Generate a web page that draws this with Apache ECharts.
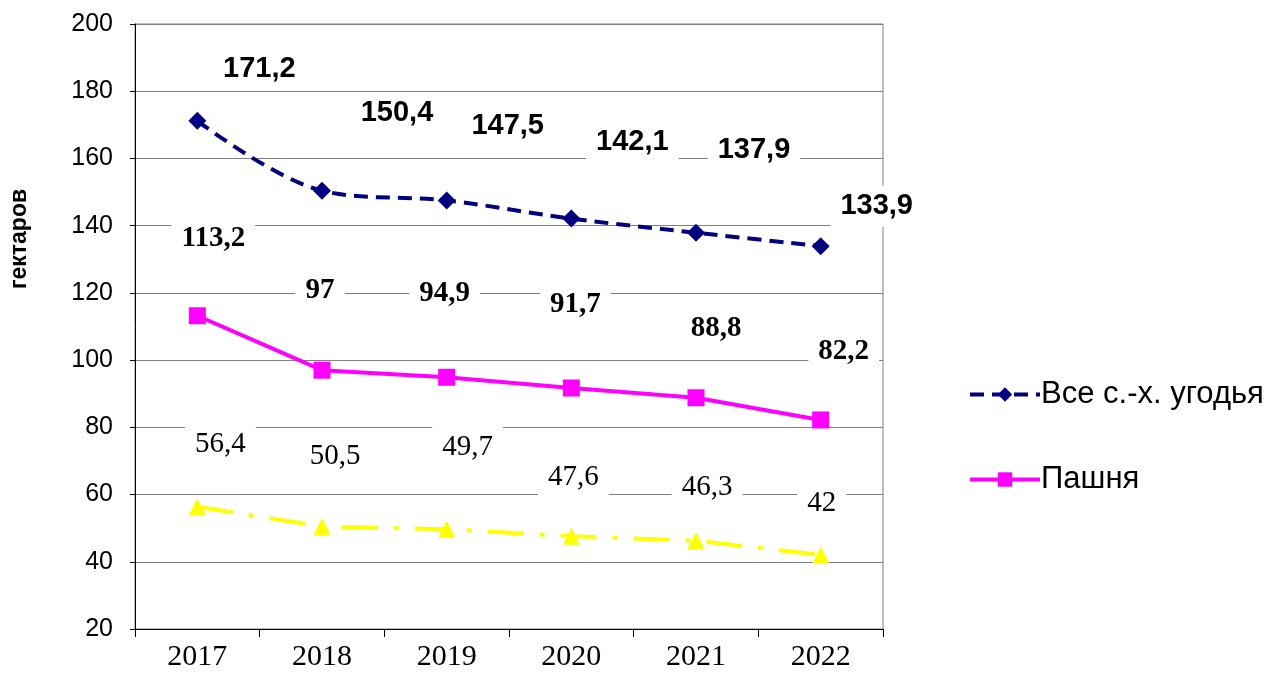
<!DOCTYPE html>
<html>
<head>
<meta charset="utf-8">
<script src="https://cdn.jsdelivr.net/npm/echarts@6/dist/echarts.min.js"></script>
<style>
  html, body { margin: 0; padding: 0; background: #fff; }
  #chart { width: 1286px; height: 677px; }
</style>
</head>
<body>
<div id="chart"></div>
<script>
var years = ['2017', '2018', '2019', '2020', '2021', '2022'];
var allLand = [171.2, 150.4, 147.5, 142.1, 137.9, 133.9];
var arable = [113.2, 97, 94.9, 91.7, 88.8, 82.2];
var third = [56.4, 50.5, 49.7, 47.6, 46.3, 42];

// label offsets from each point (label centre minus point)
var allLandOff = [[62,-52],[75,-78],[61,-74],[61,-77],[58,-83],[56,-40]];
var arableOff = [[16,-77],[-2,-80],[-2,-84],[4,-83],[20,-69],[23,-68]];
var thirdOff = [[23,-62],[13,-70],[21,-82],[2,-59],[11,-53],[1,-52]];

function fmt(v) { return String(v).replace('.', ','); }

function withLabels(vals, offs) {
    return vals.map(function (v, i) {
        return { value: v, label: { offset: offs[i] } };
    });
}

var chart = echarts.init(document.getElementById('chart'));

var labelBase = {
    show: true,
    position: 'inside',
    align: 'center',
    verticalAlign: 'middle',
    color: '#000',
    backgroundColor: '#fff',
    padding: [6, 10],
    formatter: function (p) { return fmt(p.value); }
};

var option = {
    animation: false,
    backgroundColor: '#fff',
    grid: {
        left: 135, right: 403, top: 24, bottom: 48,
        show: true, borderColor: '#808080', borderWidth: 1
    },
    legend: {
        data: ['Все с.-х. угодья', 'Пашня'],
        orient: 'vertical',
        left: 963,
        top: 374,
        itemWidth: 70,
        itemHeight: 18,
        itemGap: 54,
        lineStyle: { width: 4 },
        textStyle: { fontFamily: 'Liberation Sans', fontSize: 31, color: '#000', padding: [0, 0, 0, -4] }
    },
    graphic: [{
        type: 'text',
        x: 20, y: 239,
        rotation: Math.PI / 2,
        style: {
            text: 'гектаров',
            fontFamily: 'Liberation Sans',
            fontWeight: 'bold',
            fontSize: 23,
            fill: '#000',
            align: 'center',
            verticalAlign: 'middle'
        }
    }],
    xAxis: {
        type: 'category',
        data: years,
        boundaryGap: true,
        axisLine: { lineStyle: { color: '#000', width: 1 } },
        axisTick: { show: true, length: 8, lineStyle: { color: '#000' } },
        axisLabel: { fontFamily: 'Liberation Serif', fontSize: 30, color: '#000', margin: 13 },
        splitLine: { show: false }
    },
    yAxis: {
        type: 'value',
        min: 20, max: 200, interval: 20,
        axisLine: { show: true, lineStyle: { color: '#000', width: 1 } },
        axisTick: { show: true, length: 5, lineStyle: { color: '#000' } },
        axisLabel: { fontFamily: 'Liberation Sans', fontSize: 25, color: '#000', margin: 22 },
        splitLine: { lineStyle: { color: '#808080', width: 1 } }
    },
    series: [{
        name: 'Все с.-х. угодья',
        type: 'line',
        data: withLabels(allLand, allLandOff),
        smooth: 0.35,
        symbol: 'diamond',
        symbolSize: 18,
        color: '#000080',
        lineStyle: { color: '#000080', width: 4, type: [14, 8] },
        itemStyle: { color: '#000080' },
        label: Object.assign({}, labelBase, {
            fontFamily: 'Liberation Sans', fontWeight: 'bold', fontSize: 29
        })
    }, {
        name: 'Пашня',
        type: 'line',
        data: withLabels(arable, arableOff),
        symbol: 'rect',
        symbolSize: 17,
        color: '#ff00ff',
        lineStyle: { color: '#ff00ff', width: 4 },
        itemStyle: { color: '#ff00ff' },
        label: Object.assign({}, labelBase, {
            fontFamily: 'Liberation Serif', fontWeight: 'bold', fontSize: 29
        })
    }, {
        name: 'Прочие',
        type: 'line',
        data: withLabels(third, thirdOff),
        symbol: 'triangle',
        symbolSize: 17,
        color: '#ffff00',
        lineStyle: { color: '#ffff00', width: 4, type: [36, 16, 5, 16] },
        itemStyle: { color: '#ffff00' },
        label: Object.assign({}, labelBase, {
            fontFamily: 'Liberation Serif', fontWeight: 'normal', fontSize: 29
        })
    }]
};

chart.setOption(option);
</script>
</body>
</html>
